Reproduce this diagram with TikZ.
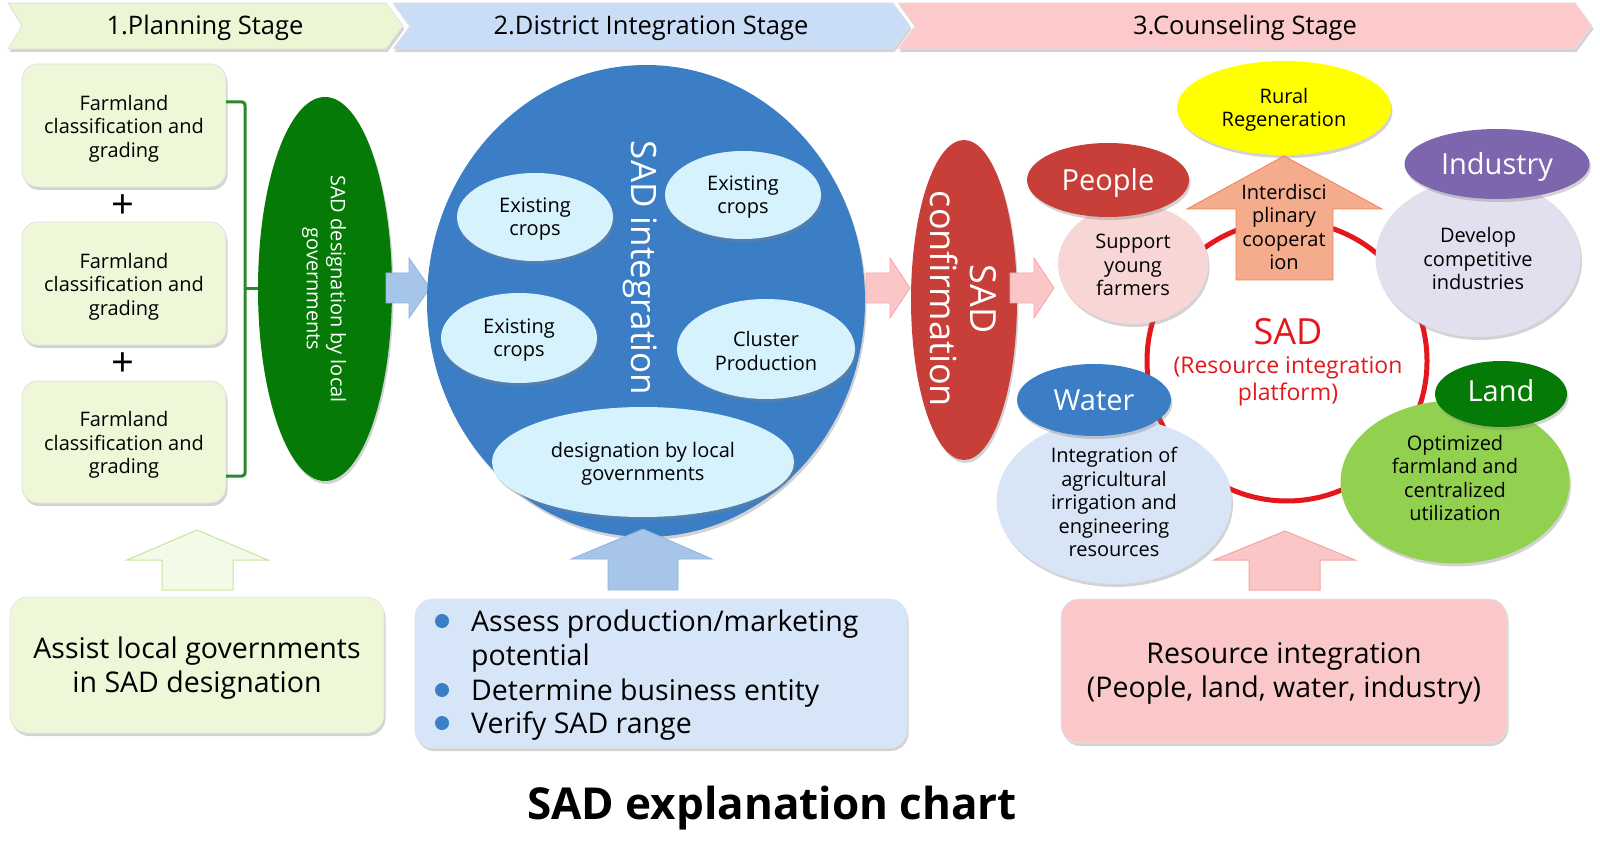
\documentclass[tikz,border=0pt]{standalone}
\usepackage{fontspec}
\setmainfont{Open Sans}
\usetikzlibrary{shapes.geometric,shadows}
\definecolor{stgA}{HTML}{EBF6D4}
\definecolor{stgB}{HTML}{C9DEF6}
\definecolor{stgC}{HTML}{FCCACB}
\definecolor{boxG}{HTML}{EEF8D8}
\definecolor{dgreen}{HTML}{067A06}
\definecolor{bgblue}{HTML}{3B7EC6}
\definecolor{cyanl}{HTML}{D6F2FD}
\definecolor{redE}{HTML}{C83E38}
\definecolor{pinkA}{HTML}{FBC6C6}
\definecolor{pinkAd}{HTML}{F3A5A5}
\definecolor{ringred}{HTML}{E3171C}
\definecolor{yel}{HTML}{FFFF00}
\definecolor{salmonA}{HTML}{F5AC8C}
\definecolor{salmonD}{HTML}{EE8254}
\definecolor{pinkL}{HTML}{F9D6D6}
\definecolor{purp}{HTML}{7D66AD}
\definecolor{lav}{HTML}{E2DFEE}
\definecolor{lblue}{HTML}{D7E5F7}
\definecolor{lgrn}{HTML}{92D050}
\definecolor{boxB}{HTML}{D6E5F7}
\definecolor{boxP}{HTML}{FAC8C8}
\definecolor{brackG}{HTML}{2A8A2A}
\definecolor{arrG}{HTML}{F3FAE8}
\definecolor{arrGd}{HTML}{C6E59C}
\definecolor{arrBf}{HTML}{A7C5E9}
\definecolor{arrBd}{HTML}{8DB3E2}
\begin{document}
\begin{tikzpicture}[x=1pt,y=-1pt,
  shd/.style={drop shadow={shadow xshift=1.5pt,shadow yshift=-3pt,opacity=0.35}},
  stagebar/.style={draw=black!12,line width=0.8,shd},
  stagetxt/.style={yshift=-3pt,font=\fontsize{25.5}{30}\selectfont},
  fbox/.style={rounded corners=16,fill=boxG,draw=black!12,line width=0.8,shd},
  ell/.style={ellipse,inner sep=0pt},
  smallell/.style={ell,fill=cyanl,shd},
  rtxt/.style={yshift=-2pt,align=center,font=\fontsize{20}{23.5}\selectfont},
  wtxt/.style={text=white,font=\fontsize{29}{34}\selectfont},
  bigbox/.style={rounded corners=18,draw=black!10,line width=0.8,shd},
  bigtxt/.style={yshift=-3pt,font=\fontsize{28.5}{34}\selectfont,align=center},
  listtxt/.style={anchor=west,yshift=-3pt,font=\fontsize{28.5}{34}\selectfont,inner sep=0},
  blockB/.style={fill=arrBf,draw=arrBd,line width=0.8}
]
\useasboundingbox (0,0) rectangle (1600,858);

% ---------- stage header ----------
\path[stagebar,fill=stgA] (8,3) -- (386,3) -- (403,26) -- (386,49) -- (8,49) -- (22,26) -- cycle;
\path[stagebar,fill=stgB] (393,3) -- (893,3) -- (910,26) -- (893,49) -- (393,49) -- (410,26) -- cycle;
\path[stagebar,fill=stgC] (898,3) -- (1575,3) -- (1592,26) -- (1575,49) -- (898,49) -- (915,26) -- cycle;
\node[stagetxt] (s1) at (205,25) {1.Planning Stage};
\node[stagetxt] (s2) at (651,25) {2.District Integration Stage};
\node[stagetxt] (s3) at (1245,25) {3.Counseling Stage};

% ---------- planning stage ----------
\node[fbox,minimum width=204,minimum height=123] (b1) at (124,125.5) {};
\node[fbox,minimum width=204,minimum height=123] (b2) at (124,283.5) {};
\node[fbox,minimum width=204,minimum height=122] (b3) at (124,442) {};
\node[rtxt,yshift=-1pt] (b1t) at (b1) {Farmland\\classification and\\grading};
\node[rtxt,yshift=-1pt] (b2t) at (b2) {Farmland\\classification and\\grading};
\node[rtxt,yshift=-1pt] (b3t) at (b3) {Farmland\\classification and\\grading};
\node[font=\fontsize{40}{40}\selectfont,inner sep=0] (p1) at (123,207) {+};
\node[font=\fontsize{40}{40}\selectfont,inner sep=0] (p2) at (123,365) {+};

\node[ell,fill=dgreen,minimum width=134,minimum height=384,shd] (des) at (325,289) {};
\node[rotate=-90,text=white,align=center,font=\fontsize{20}{24}\selectfont] (dest) at (324,289) {SAD designation by local\\governments};
\draw[brackG,line width=3,rounded corners=3] (226,102) -- (245,102) -- (245,476) -- (226,476);
\draw[brackG,line width=3] (245,289) -- (des.west);

% blue arrow
\path[blockB] (386,273) -- (409,273) -- (409,258) -- (430,288) -- (409,318) -- (409,303) -- (386,303) -- cycle;

% ---------- district integration ----------
\node[ell,fill=bgblue,minimum width=438,minimum height=472,shd] (integ) at (646,301) {};
\node[rotate=-90,text=white,font=\fontsize{35}{40}\selectfont] (integt) at (640,268) {SAD integration};
\node[smallell,minimum width=156,minimum height=88] (e1) at (535,217) {};
\node[smallell,minimum width=156,minimum height=88] (e2) at (743,195) {};
\node[smallell,minimum width=156,minimum height=90] (e3) at (519,338) {};
\node[smallell,minimum width=178,minimum height=100] (e4) at (766,349) {};
\node[smallell,minimum width=302,minimum height=110] (e5) at (643,462) {};
\node[rtxt] (e1t) at (e1) {Existing\\crops};
\node[rtxt] (e2t) at (e2) {Existing\\crops};
\node[rtxt] (e3t) at (e3) {Existing\\crops};
\node[rtxt] (e4t) at (e4) {Cluster\\Production};
\node[rtxt] (e5t) at (e5) {designation by local\\governments};

% pink arrows
\path[fill=pinkA,draw=pinkAd,line width=0.8] (866,273) -- (890,273) -- (890,258) -- (910,288) -- (890,318) -- (890,303) -- (866,303) -- cycle;
\node[ell,fill=redE,minimum width=106,minimum height=320,shd] (conf) at (964,300) {};
\node[rotate=-90,text=white,align=center,font=\fontsize{36}{40}\selectfont] (conft) at (963,299) {SAD\\confirmation};
\path[fill=pinkA,draw=pinkAd,line width=0.8] (1010,273) -- (1034,273) -- (1034,258) -- (1054,288) -- (1034,318) -- (1034,303) -- (1010,303) -- cycle;

% ---------- counseling ----------
\node[circle,draw=ringred,line width=5,minimum size=280,inner sep=0] (ring) at (1287,361) {};

\node[ell,fill=pinkL,minimum width=150,minimum height=120,shd] (sup) at (1133,264) {};
\node[rtxt,yshift=1pt] (supt) at (sup) {Support\\young\\farmers};
\node[ell,fill=redE,minimum width=162,minimum height=74,shd] (peo) at (1108,180) {};
\node[wtxt,yshift=-3pt] (peot) at (peo) {People};

\node[ell,fill=lav,minimum width=205,minimum height=158,shd] (dev) at (1478,258) {};
\node[rtxt,yshift=1pt] (devt) at (dev) {Develop\\competitive\\industries};
\node[ell,fill=purp,minimum width=185,minimum height=70,shd] (ind) at (1497,164) {};
\node[wtxt,yshift=-3pt] (indt) at (ind) {Industry};

\node[ell,fill=lblue,minimum width=235,minimum height=166,shd] (wat) at (1114,501) {};
\node[rtxt,yshift=1pt] (watt) at (wat) {Integration of\\agricultural\\irrigation and\\engineering\\resources};
\node[ell,fill=bgblue,minimum width=154,minimum height=72,shd] (wae) at (1094,400) {};
\node[wtxt] (waet) at (wae) {Water};

\node[ell,fill=lgrn,minimum width=229,minimum height=163,shd] (lan) at (1455,482) {};
\node[rtxt,yshift=6pt] (lant) at (lan) {Optimized\\farmland and\\centralized\\utilization};
\node[ell,fill=dgreen,minimum width=132,minimum height=66,shd] (lae) at (1501,394) {};
\node[wtxt,yshift=3pt] (laet) at (lae) {Land};

\node[ell,fill=yel,minimum width=214,minimum height=94,shd] (rur) at (1284,108) {};
\node[rtxt] (rurt) at (rur) {Rural\\Regeneration};
\path[fill=salmonA,draw=salmonD,line width=0.8] (1236,280) -- (1236,209) -- (1187,209) -- (1284,156) -- (1382,209) -- (1333,209) -- (1333,280) -- cycle;
\node[rtxt,yshift=2pt] (inter) at (1284,227) {Interdisci\\plinary\\cooperat\\ion};

\node[text=ringred,font=\fontsize{36}{40}\selectfont] (sad) at (1288,332) {SAD};
\node[text=ringred,align=center,font=\fontsize{23}{27}\selectfont] (sadp) at (1288,381) {(Resource integration\\platform)};

% ---------- bottom ----------
\path[fill=arrG,draw=arrGd,line width=1] (162,590) -- (162,560) -- (127,560) -- (197,530) -- (268,560) -- (233,560) -- (233,590) -- cycle;
\path[blockB] (608,590) -- (608,559) -- (571,559) -- (643,529) -- (712,559) -- (678,559) -- (678,590) -- cycle;
\path[fill=pinkA,draw=pinkAd,line width=1] (1249,590) -- (1249,560) -- (1214,560) -- (1285,531) -- (1355,560) -- (1320,560) -- (1320,590) -- cycle;

\node[bigbox,fill=boxG,minimum width=374,minimum height=136] (assist) at (197,665) {};
\node[bigtxt] (assistt) at (assist) {Assist local governments\\in SAD designation};

\node[bigbox,fill=boxB,minimum width=492,minimum height=149] (verify) at (661,673.5) {};
\fill[bgblue] (442,621) circle[radius=7];
\fill[bgblue] (442,690) circle[radius=7];
\fill[bgblue] (442,723) circle[radius=7];
\node[listtxt] (l1) at (471,621) {Assess production/marketing};
\node[listtxt] (l2) at (471,655) {potential};
\node[listtxt] (l3) at (471,690) {Determine business entity};
\node[listtxt] (l4) at (471,723) {Verify SAD range};

\node[bigbox,fill=boxP,minimum width=446,minimum height=144] (res) at (1284,671) {};
\node[bigtxt,yshift=1pt] (rest) at (res) {Resource integration\\(People, land, water, industry)};

\node[font=\fontsize{44}{50}\selectfont\bfseries] (title) at (772,808) {SAD explanation chart};
\end{tikzpicture}
\end{document}
